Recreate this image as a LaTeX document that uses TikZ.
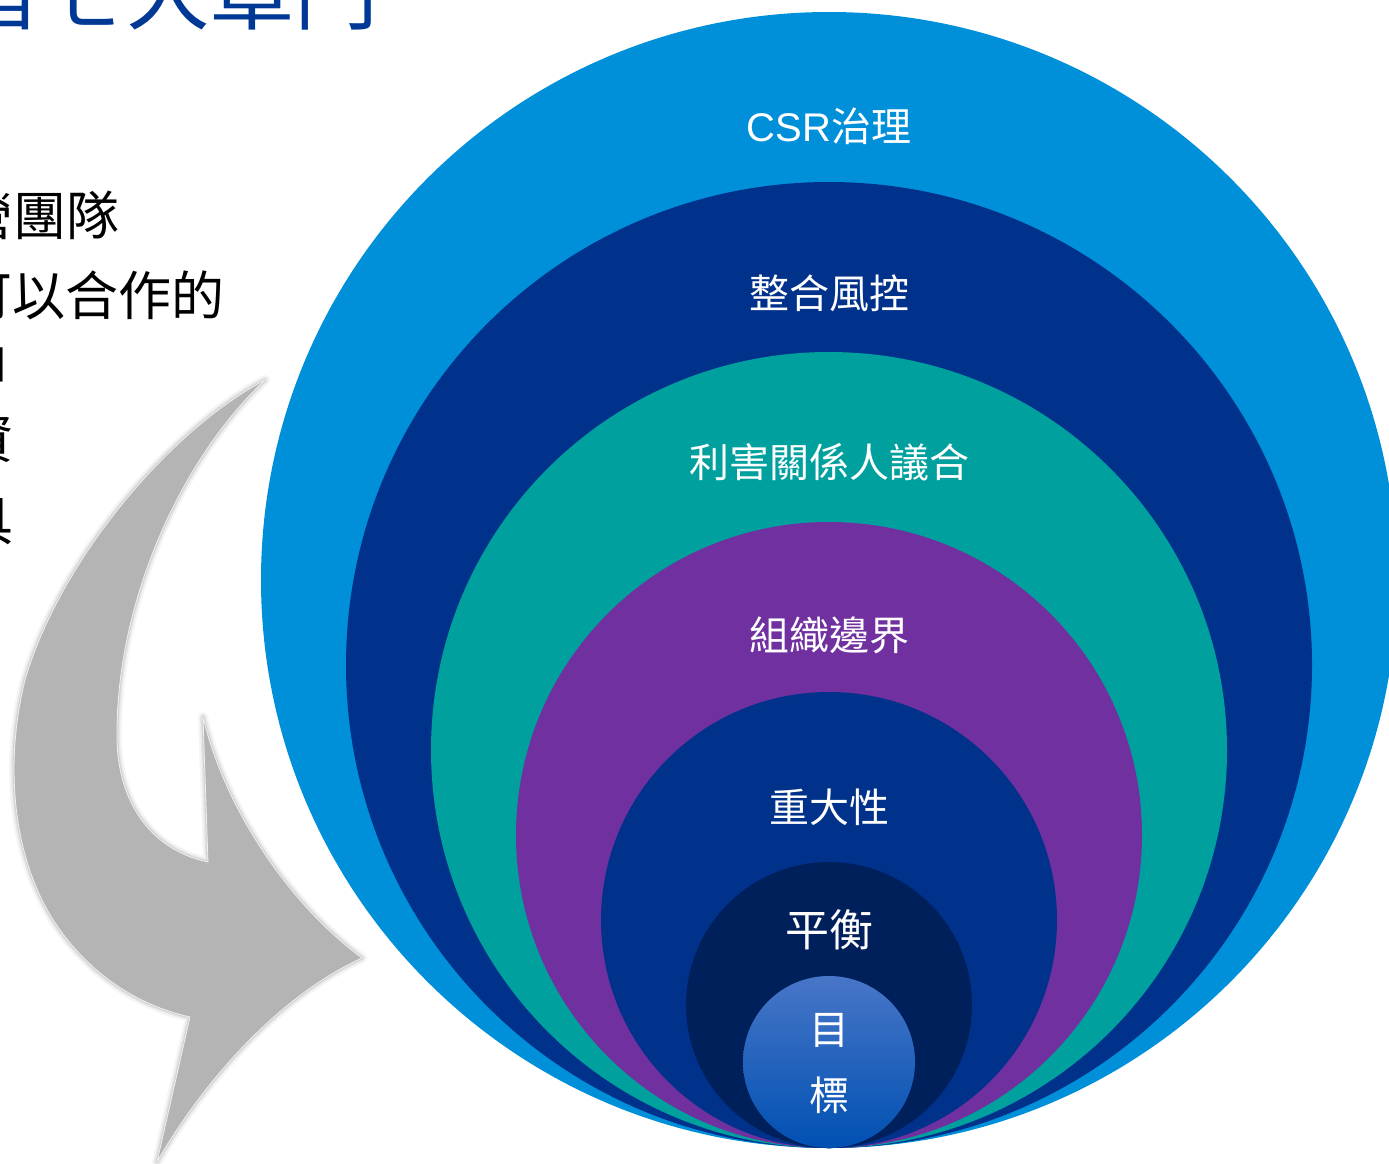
\documentclass[tikz,border=0pt]{standalone}
\usepackage{fontspec}
\setmainfont{Noto Sans CJK TC}
\newfontfamily\latinsans{Liberation Sans}
\definecolor{cLight}{RGB}{0,144,218}
\definecolor{cDark}{RGB}{0,50,140}
\definecolor{cTeal}{RGB}{0,160,158}
\definecolor{cPurple}{RGB}{112,48,160}
\definecolor{cNavy}{RGB}{0,32,91}
\definecolor{cInTop}{RGB}{72,118,200}
\definecolor{cInMid}{RGB}{12,94,194}
\definecolor{cInBot}{RGB}{0,80,178}
\definecolor{cTitle}{RGB}{0,56,150}
\definecolor{cArrow}{RGB}{180,180,180}
\newcommand\arrowshape{(265,380) .. controls (170,430) and (60,560) .. (25,680)
  .. controls (5,760) and (10,860) .. (60,930)
  .. controls (100,985) and (150,1008) .. (190,1017)
  -- (157,1162)
  .. controls (195,1095) and (270,1000) .. (362,958)
  .. controls (290,905) and (225,810) .. (203,717)
  -- (208,862)
  .. controls (150,850) and (115,800) .. (117,730)
  .. controls (118,600) and (180,460) .. cycle}
\tikzset{
  ring/.style={circle, inner sep=0pt, minimum size=#1},
  lbl/.style={text=white, inner sep=0pt, font=\fontsize{40}{46}\selectfont},
  lefttext/.style={anchor=base west, inner sep=0pt, text=black, font=\fontsize{53}{60}\selectfont},
}
\begin{document}
\begin{tikzpicture}[x=1pt,y=-1pt]
\useasboundingbox (0,0) rectangle (1389,1164);
% title (cut off at top)
\node[anchor=base west, inner sep=0pt, text=cTitle, font=\fontsize{84}{90}\selectfont] (title) at (-42,24) {旨七大章門};
% left text (cut off at left)
\node[lefttext] (t1) at (-40,235) {營團隊};
\node[lefttext] (t2) at (-41,315) {可以合作的};
\node[lefttext] (t3) at (-16,377) {」};
\node[lefttext] (t4) at (-40,458) {資};
\node[lefttext] (t5) at (-40,540) {具};
% gray arrow with soft glow
\path[draw=black, draw opacity=0.04, line width=10pt, line join=round] \arrowshape;
\path[draw=black, draw opacity=0.06, line width=6pt, line join=round] \arrowshape;
\path[draw=black, draw opacity=0.09, line width=3pt, line join=round] \arrowshape;
\path[fill=cArrow, draw=white!88!gray, line width=0.8pt, line join=round] \arrowshape;
% nested circles
\node[ring=1136pt, fill=cLight] (c1) at (829,580) {};
\node[ring=966pt, fill=cDark] (c2) at (829,665) {};
\node[ring=796pt, fill=cTeal] (c3) at (829,750) {};
\node[ring=626pt, fill=cPurple] (c4) at (829,835) {};
\node[ring=456pt, fill=cDark] (c5) at (829,920) {};
\node[ring=286pt, fill=cNavy] (c6) at (829,1005) {};
\node[ring=172pt, top color=cInTop, middle color=cInMid, bottom color=cInBot] (c7) at (829,1062) {};
% labels
\node[lbl] (l1) at (829,126) {{\latinsans CSR}治理};
\node[lbl] (l2) at (829,293) {整合風控};
\node[lbl] (l3) at (829,462) {利害關係人議合};
\node[lbl] (l4) at (829,635) {組織邊界};
\node[lbl] (l5) at (829,807) {重大性};
\node[lbl, font=\fontsize{44}{50}\selectfont] (l6) at (829,930) {平衡};
\node[lbl] (l7) at (829,1030) {目};
\node[lbl] (l8) at (829,1095) {標};
\end{tikzpicture}
\end{document}
